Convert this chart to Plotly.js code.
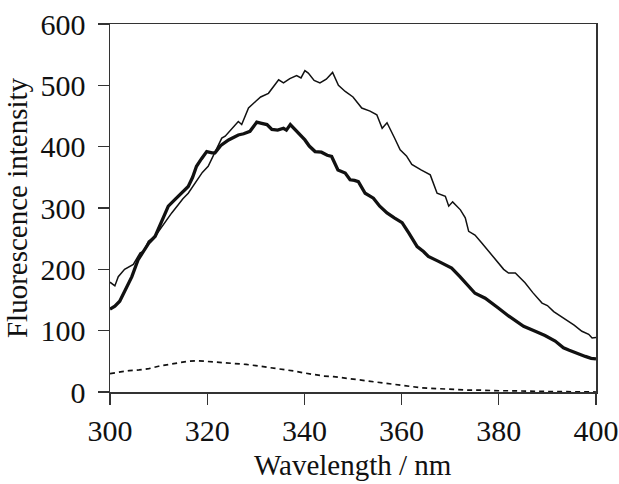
<!DOCTYPE html>
<html><head><meta charset="utf-8">
<script src="https://cdn.plot.ly/plotly-3.0.1.min.js"></script>
<style>html,body{margin:0;padding:0;background:#fff;}#plot{width:619px;height:484px;}</style>
</head><body><div id="plot"></div>
<script>
// Thin solid curve
const thinX = [300,301,301.7,303,304.8,306.2,306.9,307.9,309.3,310.5,311.5,312.7,314,315,316.1,317,318,319,320.2,321.6,322.2,323,323.7,325,326.4,327.1,328.5,330,331,332.6,333.5,334.7,335.7,337,338.4,339.3,340.1,340.8,342,343.2,344.5,345.8,347,348.4,350,351.8,353.5,354.9,356,357,358.5,359.7,361,362.1,364,365.9,367.3,369,369.7,370.5,372.1,373.1,373.8,375.1,376.5,378.2,379.9,381,382,383.4,385.4,387,388.9,390,391.3,392.5,393.7,395.5,397.1,398.5,399.2,400];
const thinY = [179,173,188,200,208,227,229,246,254,268,280,292,305,315,324,335,348,358,368,390,400,414,417,428,441,436,463,474,481,487,496,509,504,511,516,512,524,520,508,504,510,521,500,490,481,463,458,452,430,439,415,395,385,371,362,354,324,319,303,310,297,284,262,256,243,227,210,200,194,194,178,162,145,141,131,125,118,109,99,94,88,89];
// Thick solid curve
const thickX = [300,301,302,303.1,304.5,305.8,307.2,308,309.3,310.5,312,313.5,315,316.1,317,317.8,318.8,319.9,321,321.6,322.8,324.4,326.4,327.5,328.8,330.2,331.2,332.3,333.3,334.5,335.7,336.3,337.1,338.5,340.1,341,342.2,343.5,344.7,345.6,346.9,348.4,349.4,350.3,351.1,352.5,354.2,355.5,357,358.5,360.1,361.5,363.2,364.5,365.5,367.6,369,370.3,372,374.1,375.1,377.2,378.5,379.9,382,384,385.1,387.5,389.5,391.6,393.3,394.5,395.7,397.8,399,400];
const thickY = [135,140,148,167,188,216,232,243,254,275,303,315,327,335,350,368,380,392,390,390,402,411,419,421,425,440,438,436,428,427,430,427,436,424,411,401,392,391,386,384,362,357,346,345,343,324,316,303,292,284,276,259,237,229,221,213,208,202,188,170,161,153,146,137,124,113,107,99,92,83,72,68,64,58,55,54];
// Dashed curve
const dashX = [300,302,304,306,308,310,312,314,316,318,320,322,324,326,328,330,332,334,336,338,340,342,344,346,348,350,352,354,356,358,360,362,364,366,368,370,372,374,376,378,380,382,384,386,388,390,392,394,396,398,400];
const dashY = [30,33,35,36,38,42,45,48,50,51,50,49,48,46,45,43,41,39,36,34,31,28,26,25,23,21,18,16,14,12,10,9,7,6,5,4.5,4,3,3,2,2,2,1.5,1,1,1,0.5,0.5,0,0,0];
const xTicks = [300,320,340,360,380,400];
const yTicks = [0,100,200,300,400,500,600];
const xTitle = 'Wavelength / nm';
const yTitle = 'Fluorescence intensity';

const traces = [
  {x: thinX, y: thinY, mode:'lines', line:{color:'#111', width:1.5}, hoverinfo:'skip'},
  {x: thickX, y: thickY, mode:'lines', line:{color:'#111', width:3.3}, hoverinfo:'skip'},
  {x: dashX, y: dashY, mode:'lines', line:{color:'#111', width:1.7, dash:'5px,4px'}, hoverinfo:'skip'}
];
const font = {family:'"Liberation Serif", "Times New Roman", serif', color:'#111'};
const layout = {
  width:619, height:484,
  margin:{l:110, r:23, t:24, b:92},
  paper_bgcolor:'#fff', plot_bgcolor:'#fff',
  showlegend:false,
  font: Object.assign({size:29}, font),
  xaxis:{
    range:[300,400], tickvals:xTicks, ticktext:xTicks.map(String),
    ticks:'outside', ticklen:11, tickwidth:1.3, tickcolor:'#333',
    showline:true, linecolor:'#333', linewidth:1.5, mirror:true,
    showgrid:false, zeroline:false,
    tickfont:Object.assign({size:30}, font)
  },
  yaxis:{
    range:[0,600], tickvals:yTicks, ticktext:yTicks.map(String),
    ticks:'outside', ticklen:11, tickwidth:1.3, tickcolor:'#333',
    showline:true, linecolor:'#333', linewidth:1.5, mirror:true,
    showgrid:false, zeroline:false, ticklabelstandoff:6,
    tickfont:Object.assign({size:30}, font),
    title:{text:yTitle, font:Object.assign({size:29}, font), standoff:4}
  },
  annotations:[{
    text:xTitle, xref:'paper', yref:'paper', x:0.5, y:-0.248,
    xanchor:'center', yanchor:'bottom', showarrow:false,
    font:Object.assign({size:29}, font)
  }]
};
Plotly.newPlot('plot', traces, layout, {displayModeBar:false, staticPlot:true});
</script></body></html>
